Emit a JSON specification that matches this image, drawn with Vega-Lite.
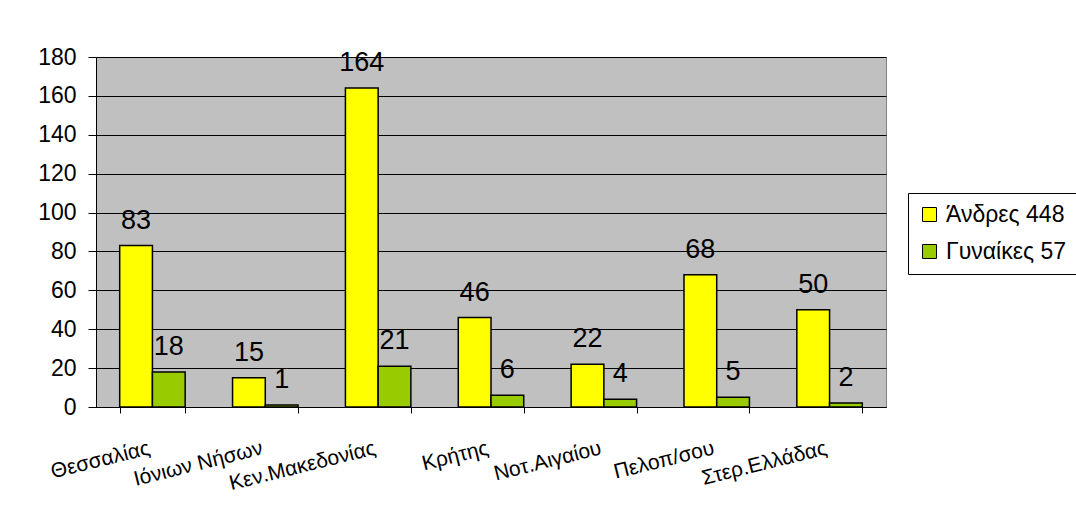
{
  "$schema": "https://vega.github.io/schema/vega-lite/v6.json",
  "width": 790,
  "height": 350,
  "autosize": {"type": "none"},
  "padding": {"left": 96, "top": 57, "right": 190, "bottom": 113},
  "background": "white",
  "config": {
    "font": "Liberation Sans",
    "view": {"fill": "#C0C0C0", "stroke": "#808080", "strokeWidth": 1}
  },
  "data": {
    "values": [
      {"region": "Θεσσαλίας", "series": "Άνδρες 448", "value": 83},
      {"region": "Θεσσαλίας", "series": "Γυναίκες 57", "value": 18},
      {"region": "Ιόνιων Νήσων", "series": "Άνδρες 448", "value": 15},
      {"region": "Ιόνιων Νήσων", "series": "Γυναίκες 57", "value": 1},
      {"region": "Κεν.Μακεδονίας", "series": "Άνδρες 448", "value": 164},
      {"region": "Κεν.Μακεδονίας", "series": "Γυναίκες 57", "value": 21},
      {"region": "Κρήτης", "series": "Άνδρες 448", "value": 46},
      {"region": "Κρήτης", "series": "Γυναίκες 57", "value": 6},
      {"region": "Νοτ.Αιγαίου", "series": "Άνδρες 448", "value": 22},
      {"region": "Νοτ.Αιγαίου", "series": "Γυναίκες 57", "value": 4},
      {"region": "Πελοπ/σου", "series": "Άνδρες 448", "value": 68},
      {"region": "Πελοπ/σου", "series": "Γυναίκες 57", "value": 5},
      {"region": "Στερ.Ελλάδας", "series": "Άνδρες 448", "value": 50},
      {"region": "Στερ.Ελλάδας", "series": "Γυναίκες 57", "value": 2}
    ]
  },
  "encoding": {
    "x": {
      "field": "region",
      "type": "nominal",
      "sort": null,
      "scale": {"paddingInner": 0.42, "paddingOuter": 0.21},
      "axis": {
        "title": null,
        "labelAngle": -14,
        "labelAlign": "right",
        "labelBaseline": "top",
        "labelFontSize": 21,
        "labelColor": "black",
        "labelPadding": 24,
        "labelOffset": -6,
        "tickBand": "extent",
        "tickSize": 6,
        "tickColor": "black",
        "domainColor": "black",
        "grid": false
      }
    },
    "xOffset": {"field": "series", "sort": null},
    "y": {
      "field": "value",
      "type": "quantitative",
      "scale": {"domain": [0, 180], "nice": false},
      "axis": {
        "title": null,
        "values": [0, 20, 40, 60, 80, 100, 120, 140, 160, 180],
        "labelFontSize": 23,
        "labelColor": "black",
        "labelPadding": 12,
        "tickSize": 8,
        "tickColor": "black",
        "domainColor": "black",
        "grid": true,
        "gridColor": "black",
        "gridOpacity": 1
      }
    }
  },
  "layer": [
    {
      "mark": {"type": "bar", "stroke": "black", "strokeWidth": 1.5},
      "encoding": {
        "color": {
          "field": "series",
          "type": "nominal",
          "scale": {"domain": ["Άνδρες 448", "Γυναίκες 57"], "range": ["#FFFF00", "#99CC00"]},
          "legend": {
            "title": null,
            "orient": "none",
            "legendX": 812,
            "legendY": 136,
            "strokeColor": "black",
            "fillColor": "white",
            "padding": 10,
            "rowPadding": 13,
            "symbolType": "square",
            "symbolSize": 196,
            "symbolStrokeColor": "black",
            "symbolStrokeWidth": 1,
            "labelFontSize": 23,
            "labelColor": "black",
            "labelOffset": 5
          }
        }
      }
    },
    {
      "mark": {"type": "text", "baseline": "alphabetic", "dy": -17, "fontSize": 27, "color": "black"},
      "encoding": {"text": {"field": "value", "type": "quantitative"}}
    }
  ]
}
